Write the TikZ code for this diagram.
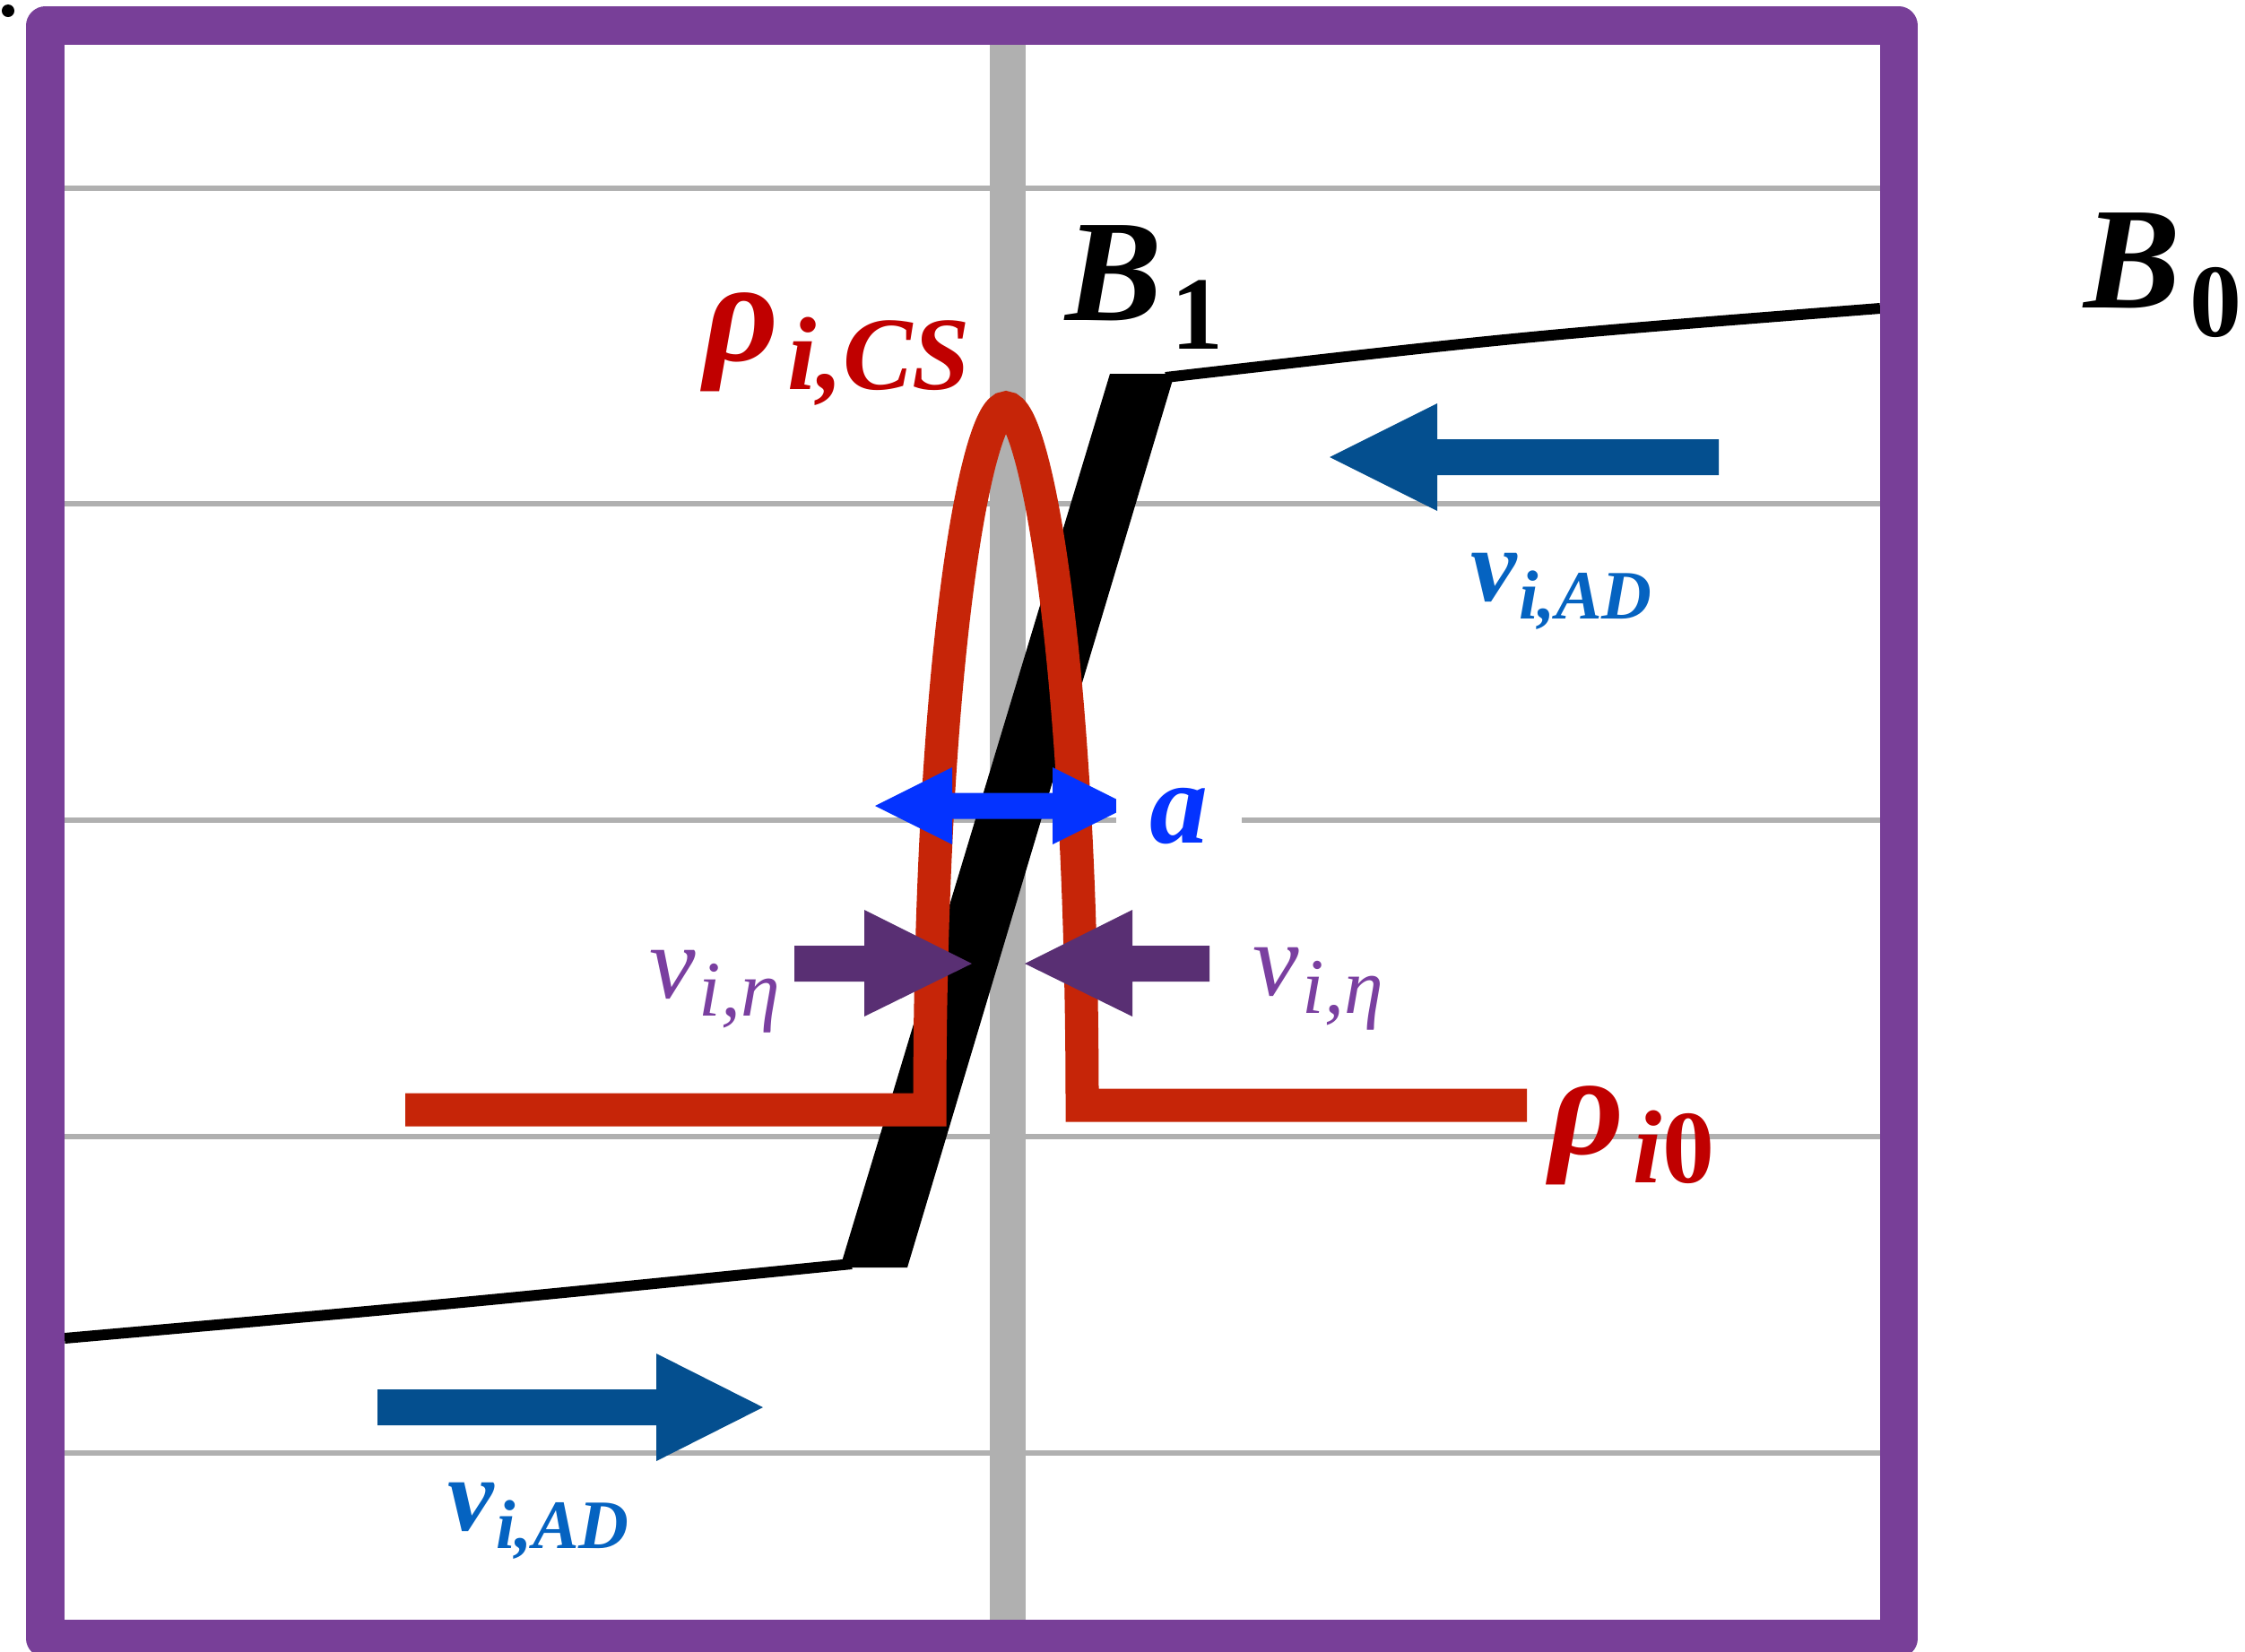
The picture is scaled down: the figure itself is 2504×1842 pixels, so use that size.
\documentclass[tikz,border=0pt]{standalone}
\usepackage{fontspec}
\setmainfont{Liberation Serif}
\newcommand{\bi}[1]{{\bfseries\itshape #1}}
\newcommand{\bu}[1]{{\bfseries #1}}
\newcommand{\ri}[1]{{\itshape #1}}
\newcommand{\bigsub}[1]{\kern3pt\raisebox{-9.2pt}{\fontsize{33}{33}\selectfont #1}}
\newcommand{\midsub}[1]{\kern0.8pt\raisebox{-5.7pt}{\fontsize{22}{22}\selectfont #1}}
\newcommand{\etasub}[1]{\kern1.2pt\raisebox{-5.9pt}{\fontsize{25}{25}\selectfont #1}}
\definecolor{framepurple}{RGB}{120,63,152}
\definecolor{gridgray}{RGB}{176,176,176}
\definecolor{rhocurve}{RGB}{198,37,8}
\definecolor{rhotext}{RGB}{192,0,0}
\definecolor{flowblue}{RGB}{4,79,143}
\definecolor{flowtext}{RGB}{5,99,193}
\definecolor{abright}{RGB}{4,51,255}
\definecolor{etaarrow}{RGB}{89,47,115}
\definecolor{etatext}{RGB}{122,63,160}
\begin{document}
\begin{tikzpicture}[x=0.01cm,y=-0.01cm,
  gridline/.style={gridgray,line width=0.06cm},
  fieldthin/.style={black,line width=0.12cm},
  lab/.style={anchor=base west,inner sep=0pt,outer sep=0pt},
  bigfont/.style={font=\fontsize{46}{52}\selectfont},
  midfont/.style={font=\fontsize{33}{38}\selectfont}]
\useasboundingbox (0,0) rectangle (2504,1842);
% grid
\foreach \yy in {210,562,915,1268,1621}
  \draw[gridline] (72,\yy) -- (2097,\yy);
\draw[gridgray,line width=0.40cm] (1124,50) -- (1124,1807);
% magnetic field line
\fill[black] (937,1414) -- (1012,1414) -- (1310,417) -- (1238,417) -- cycle;
\draw[fieldthin] (1300,421) .. controls (1700,375) .. (2097,344);
\draw[fieldthin] (950,1410) .. controls (480,1457) .. (72,1493);
% density profile
\draw[rhocurve,line width=0.37cm,line join=miter]
  (452,1238) -- (1037,1238)
  .. controls (1037,730) and (1090,455) .. (1122,455)
  .. controls (1154,455) and (1207,730) .. (1207,1233)
  -- (1703,1233);
% flow arrows
\fill[flowblue] (1917,490) -- (1603,490) -- (1603,450) -- (1483,510) -- (1603,570) -- (1603,530) -- (1917,530) -- cycle;
\fill[flowblue] (421,1550) -- (732,1550) -- (732,1510) -- (851,1570) -- (732,1630) -- (732,1590) -- (421,1590) -- cycle;
% eta arrows
\fill[etaarrow] (886,1055) -- (964,1055) -- (964,1015) -- (1084,1075) -- (964,1134) -- (964,1095) -- (886,1095) -- cycle;
\fill[etaarrow] (1349,1055) -- (1263,1055) -- (1263,1015) -- (1143,1075) -- (1263,1134) -- (1263,1095) -- (1349,1095) -- cycle;
% width arrow
\fill[abright] (976,899) -- (1062,856) -- (1062,884.5) -- (1174,884.5) -- (1174,856) -- (1260,899) -- (1174,942) -- (1174,913.5) -- (1062,913.5) -- (1062,942) -- cycle;
% labels
\node[fill=white,inner sep=0pt,minimum width=1.4cm,minimum height=1cm,text=abright,font=\fontsize{37}{42}\selectfont] (alab) at (1315,911) {\bi{a}};
\node[lab,bigfont,text=black] (b1) at (1188,357) {\bi{B}\bigsub{\bu{1}}};
\node[lab,bigfont,text=black] (b0) at (2324,343) {\bi{B}\bigsub{\bu{0}}};
\node[lab,bigfont,text=rhotext] (rcs) at (785,402) {\bi{ρ}\bigsub{\bi{i,CS}}};
\node[lab,bigfont,text=rhotext] (r0) at (1728,1287) {\bi{ρ}\bigsub{\bi{i}\bu{0}}};
\node[lab,midfont,text=flowtext] (vad1) at (1640,670) {\bi{v}\midsub{\bi{i,AD}}};
\node[lab,midfont,text=flowtext] (vad2) at (499,1707) {\bi{v}\midsub{\bi{i,AD}}};
\node[lab,midfont,text=etatext] (veta1) at (724,1113) {\ri{v}\etasub{\ri{i,η}}};
\node[lab,midfont,text=etatext] (veta2) at (1397,1110) {\ri{v}\etasub{\ri{i,η}}};
% frame
\draw[framepurple,line width=0.42cm,line join=round] (50.5,28.5) rectangle (2118,1828);
\fill[black] (9,12) circle[radius=0.07cm];
\end{tikzpicture}
\end{document}
